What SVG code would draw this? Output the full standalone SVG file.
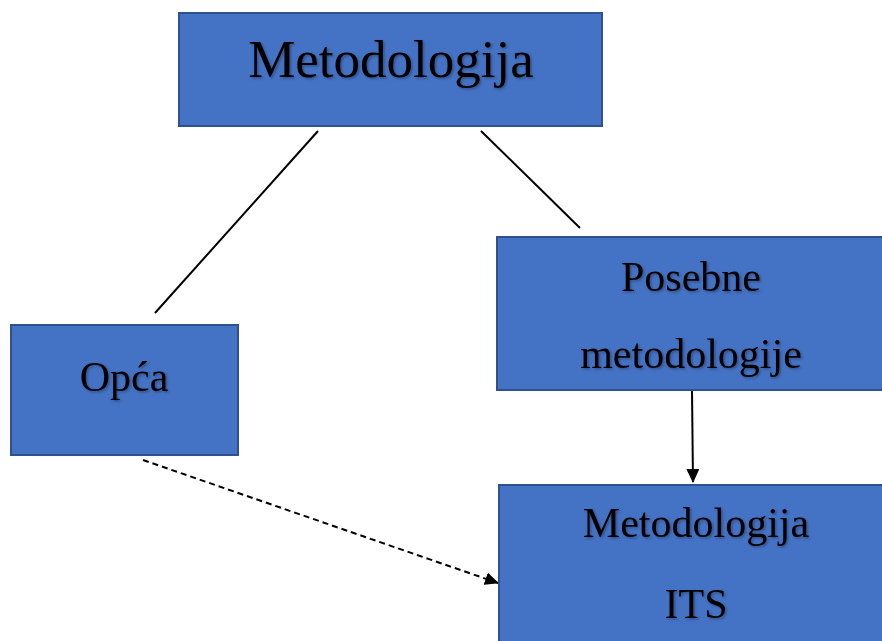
<svg xmlns="http://www.w3.org/2000/svg" width="882" height="641" viewBox="0 0 882 641">
<style>
.box{fill:#4472C4;stroke:#2F528F;stroke-width:2}
.t{font-family:"Liberation Serif","Times New Roman",serif;fill:#000;text-anchor:middle;filter:url(#sh)}
.c{stroke:#000;stroke-width:2;fill:none}
</style>
<defs>
<filter id="sh" x="-10%" y="-20%" width="120%" height="140%">
<feDropShadow dx="1.5" dy="1.5" stdDeviation="1.2" flood-color="#000" flood-opacity="0.3"/>
</filter>
<marker id="ah" markerWidth="14" markerHeight="13" refX="13" refY="6.5" orient="auto" markerUnits="userSpaceOnUse" viewBox="0 0 14 13">
<path d="M0,0 L14,6.5 L0,13 Z" fill="#000"/>
</marker>
</defs>
<rect width="882" height="641" fill="#fff"/>
<g id="connectors">
<line class="c" x1="318" y1="131" x2="155" y2="313"/>
<line class="c" x1="481" y1="131" x2="580" y2="228"/>
<line class="c" x1="692" y1="391" x2="693" y2="482" marker-end="url(#ah)"/>
<line class="c" x1="143" y1="460" x2="498" y2="583" stroke-dasharray="6,4" stroke-width="1.5" marker-end="url(#ah)"/>
</g>
<g id="metodologija">
<rect class="box" x="179" y="13" width="423" height="113"/>
<text class="t" x="391" y="77" font-size="53">Metodologija</text>
</g>
<g id="opca">
<rect class="box" x="11" y="325" width="227" height="130"/>
<text class="t" x="124" y="391" font-size="42">Opća</text>
</g>
<g id="posebne">
<rect class="box" x="497" y="237" width="390" height="153"/>
<text class="t" x="691" y="291" font-size="42">Posebne</text>
<text class="t" x="691" y="368" font-size="42">metodologije</text>
</g>
<g id="its">
<rect class="box" x="499" y="485" width="390" height="170"/>
<text class="t" x="696" y="537" font-size="42">Metodologija</text>
<text class="t" x="696" y="618" font-size="42">ITS</text>
</g>
</svg>
